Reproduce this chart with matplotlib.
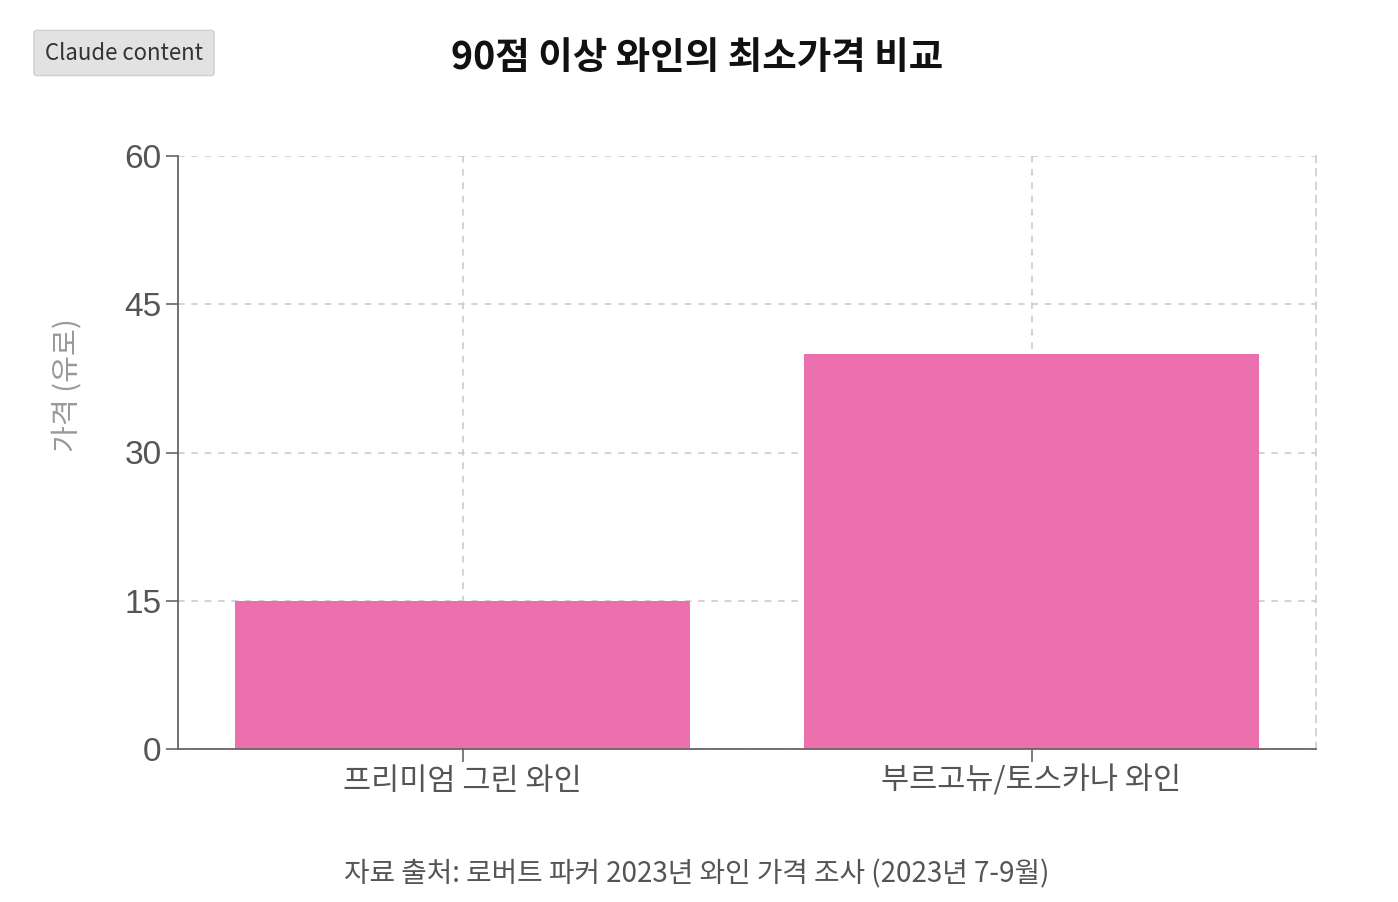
import matplotlib
matplotlib.use("Agg")
import matplotlib.pyplot as plt

plt.rcParams['font.family'] = ['Noto Sans CJK KR', 'DejaVu Sans']

categories = ["프리미엄 그린 와인", "부르고뉴/토스카나 와인"]
prices = [15, 40]
y_ticks = [0, 15, 30, 45, 60]

title = "90점 이상 와인의 최소가격 비교"
y_label = "가격 (유로)"
source = "자료 출처: 로버트 파커 2023년 와인 가격 조사 (2023년 7-9월)"

fig = plt.figure(figsize=(13.98, 9.02), dpi=100)
ax = fig.add_axes([178 / 1398, 1 - 749 / 902, (1316 - 178) / 1398, (749 - 156) / 902])

x = list(range(len(categories)))
ax.bar(x, prices, width=0.8, color='#ec70ae', zorder=2)

ax.set_xlim(-0.5, len(categories) - 0.5)
ax.set_ylim(0, 60)
ax.set_xticks(x)
ax.set_xticklabels(categories, fontsize=22, color='#555555')
ax.set_yticks(y_ticks)
ax.set_yticklabels([str(v) for v in y_ticks], fontsize=24, color='#555555',
                   family=['Liberation Sans', 'DejaVu Sans'])

ax.set_axisbelow(True)
ax.grid(True, linestyle=(0, (4, 4)), color='#cccccc', linewidth=1.2)
ax.tick_params(axis='both', length=9, width=1.2, color='#666666', pad=3)

for s in ['left', 'bottom']:
    ax.spines[s].set_color('#666666')
    ax.spines[s].set_linewidth(1.3)
ax.spines['top'].set_visible(False)
ax.spines['right'].set_linestyle((0, (4, 4)))
ax.spines['right'].set_color('#cccccc')
ax.spines['right'].set_linewidth(1.2)

fig.text(68 / 1398, 1 - 385 / 902, y_label, ha='center', va='center', rotation=90,
         fontsize=21, color='#999999')

fig.text(697 / 1398, 1 - 57 / 902, title, ha='center', va='center',
         fontsize=27, fontweight='bold', color='#111111')
fig.text(697 / 1398, 1 - 874 / 902, source, ha='center', va='center',
         fontsize=20, color='#555555')

fig.text(124 / 1398, 1 - 53 / 902, "Claude content", ha='center', va='center',
         fontsize=16, color='#333333',
         bbox=dict(boxstyle='round,pad=0.5,rounding_size=0.15', facecolor='#e2e2e2',
                   edgecolor='#cfcfcf', linewidth=1))

fig.savefig("out.png", dpi=100)
